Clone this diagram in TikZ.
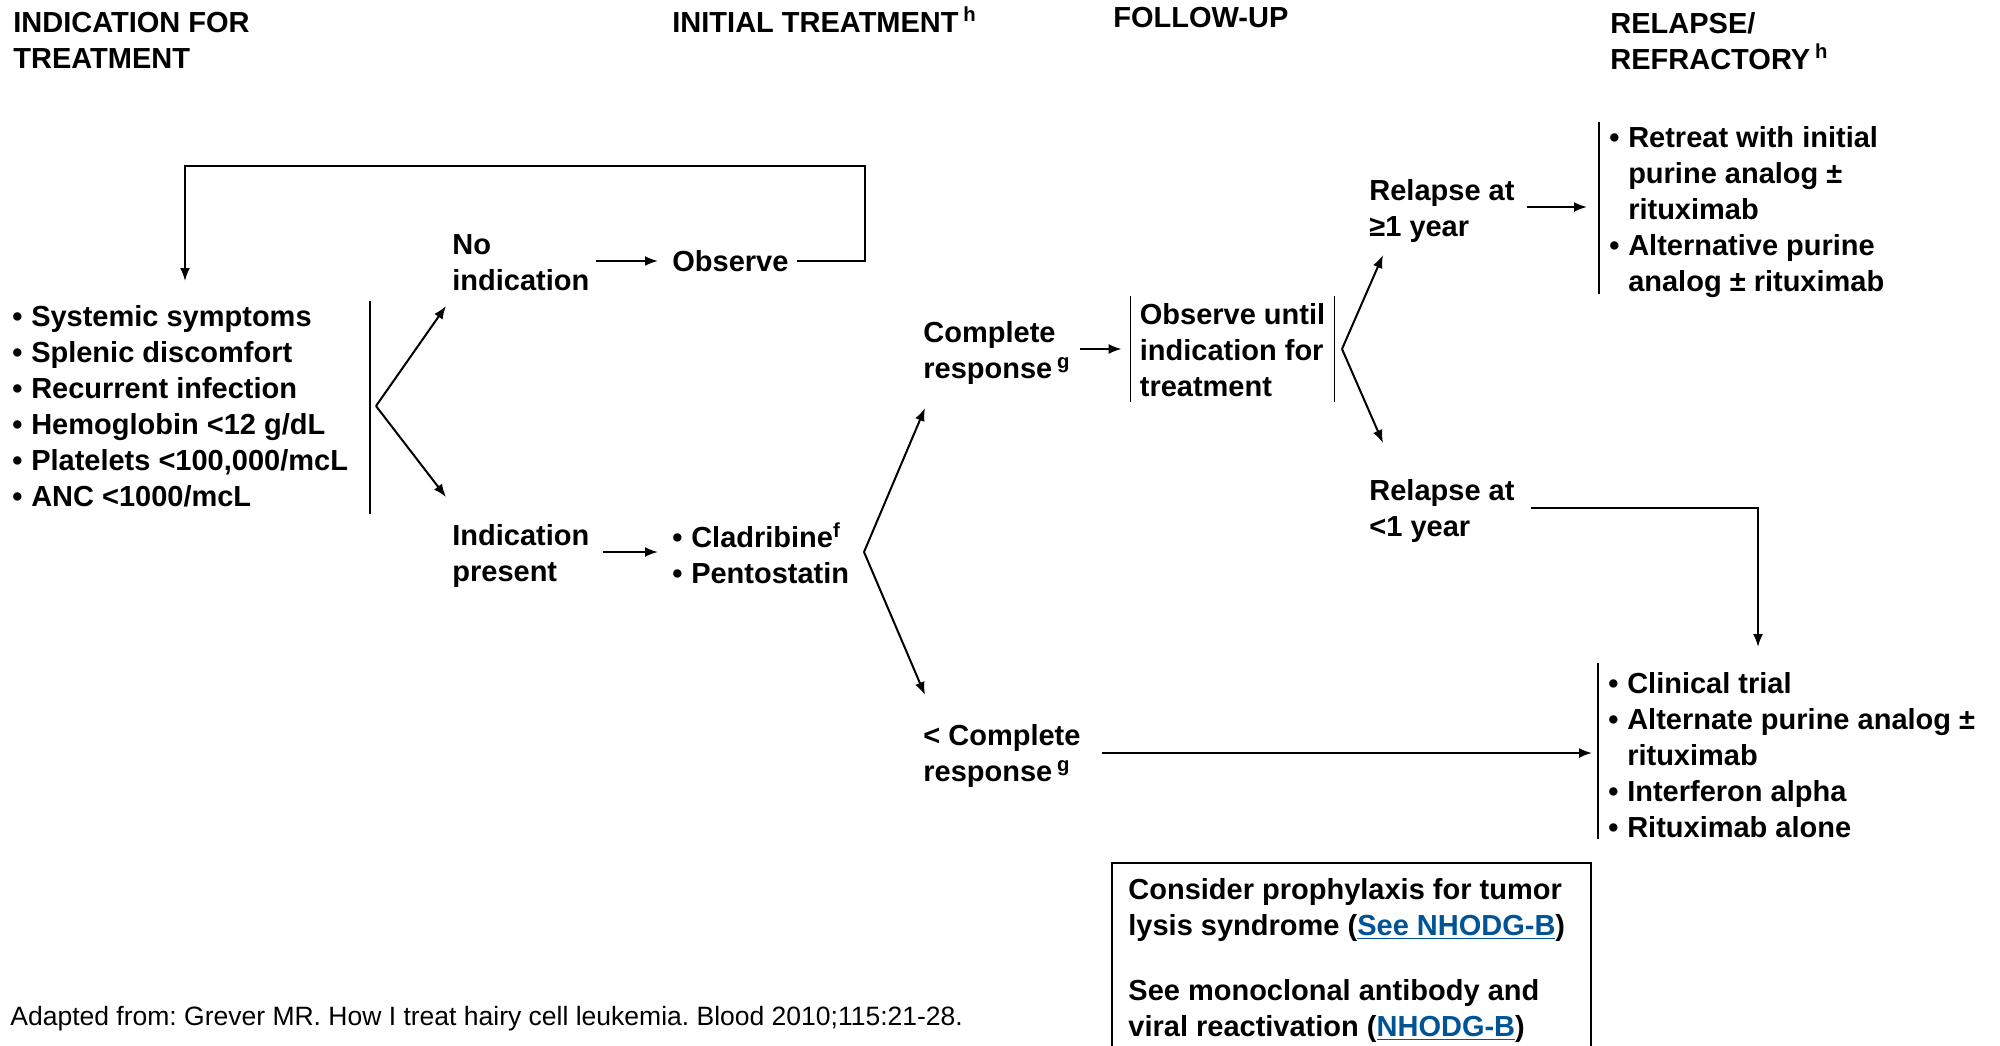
\documentclass[tikz,border=0pt]{standalone}
\usepackage{fontspec}
\setmainfont{Liberation Sans}
\usetikzlibrary{arrows.meta,calc}
\definecolor{linkblue}{RGB}{0,84,150}
\newcommand{\lnk}[1]{\textcolor{linkblue}{\underline{#1}}}
\newcommand{\bul}{\textbullet\hspace{0.3em}}
\newcommand{\hang}{\hphantom{\textbullet\hspace{0.3em}}}
\frenchspacing
\begin{document}
\begin{tikzpicture}[x=0.5pt,y=-0.5pt,
  txt/.style={font=\fontsize{14.5}{18}\selectfont\bfseries, inner sep=0pt, align=left},
  arr/.style={line width=1pt,-{Latex[length=6.5pt,width=5pt]}},
  ln/.style={line width=1pt},
  brk/.style={line width=0.8pt},
  box/.style={line width=1.2pt}]
\useasboundingbox (0,0) rectangle (2000,1045);

% headers
\node[txt,anchor=north west] (h1) at (13,12) {INDICATION FOR\\TREATMENT};
\node[txt,anchor=base west] (h2) at (672,32) {INITIAL TREATMENT\,\textsuperscript{h}};
\node[txt,anchor=base west] (h3) at (1113,27) {FOLLOW-UP};
\node[txt,anchor=north west] (h4) at (1610,12) {RELAPSE/\\REFRACTORY\,\textsuperscript{h}};

% indication list
\node[txt,anchor=west] (ind) at (12,406) {\bul Systemic symptoms\\\bul Splenic discomfort\\\bul Recurrent infection\\\bul Hemoglobin <12 g/dL\\\bul Platelets <100,000/mcL\\\bul ANC <1000/mcL};
\coordinate (barT) at (370,301);
\coordinate (barB) at (370,514);
\draw[brk] (barT) -- (barB);

\coordinate (f1) at (376,406);
\coordinate (t1a) at (446,306);
\coordinate (t1b) at (446,497);
\node[txt,anchor=west] (noind) at (452,263) {No\\indication};
\node[txt,anchor=west] (indp) at (452,556) {Indication\\present};
\draw[arr] (f1) -- (t1a);
\draw[arr] (f1) -- (t1b);

\node[txt,anchor=west] (obs) at (672,261) {Observe};
\draw[arr,shorten <=3pt,shorten >=7pt] (noind.east |- obs.west) -- (obs.west);
\coordinate (lpR) at (865,166);
\coordinate (lpL) at (185,281);
\draw[arr] ([xshift=4pt]obs.east) -| (lpR) -| (lpL);

\node[txt,anchor=west] (drug) at (672,553) {\bul Cladribine\textsuperscript{f}\\\bul Pentostatin};
\coordinate (a2) at (603,552);
\draw[arr,shorten >=7pt] (a2) -- (a2 -| drug.west);

\coordinate (f2) at (864,552);
\coordinate (t2a) at (925,408);
\coordinate (t2b) at (925,695);
\draw[arr] (f2) -- (t2a);
\draw[arr] (f2) -- (t2b);

\node[txt,anchor=west] (cr) at (923,353) {Complete\\response\,\textsuperscript{g}};
\node[txt,minimum width=101.5pt,minimum height=52.5pt] (ou) at (1232.5,350) {Observe until\\indication for\\treatment};
\draw[brk] ([yshift=0.5pt]ou.north west) -- ([yshift=0.5pt]ou.south west);
\draw[brk] ([yshift=0.5pt]ou.north east) -- ([yshift=0.5pt]ou.south east);
\coordinate (a3) at (1080,349);
\draw[arr,shorten >=4.5pt] (a3) -- (a3 -| ou.west);

\coordinate (f3) at (1342,349);
\coordinate (t3a) at (1383,255);
\coordinate (t3b) at (1383,443);
\draw[arr] (f3) -- (t3a);
\draw[arr] (f3) -- (t3b);

\node[txt,anchor=west] (r1) at (1369,211) {Relapse at\\≥1 year};
\node[txt,anchor=west,minimum height=84pt,inner xsep=5pt] (rb1) at (1599,212) {\bul Retreat with initial\\\hang purine analog ±\\\hang rituximab\\\bul Alternative purine\\\hang analog ± rituximab};
\draw[brk] ([yshift=2pt]rb1.north west) -- ([yshift=2pt]rb1.south west);
\coordinate (a4) at (1527,207);
\draw[arr,shorten >=6pt] (a4) -- (a4 -| rb1.west);

\node[txt,anchor=west] (r2) at (1369,511) {Relapse at\\<1 year};
\node[txt,anchor=west,minimum height=88pt,inner xsep=5pt] (rb2) at (1598,755) {\bul Clinical trial\\\bul Alternate purine analog ±\\\hang rituximab\\\bul Interferon alpha\\\bul Rituximab alone};
\draw[brk] ([yshift=2pt]rb2.north west) -- ([yshift=2pt]rb2.south west);
\coordinate (c1) at (1531,508);
\coordinate (c2) at (1758,508);
\coordinate (c3) at (1758,647);
\draw[arr] (c1) -- (c2) -- (c3);

\node[txt,anchor=west] (lc) at (923,756) {< Complete\\response\,\textsuperscript{g}};
\coordinate (a5) at (1102,753);
\draw[arr,shorten >=3pt] (a5) -- (a5 -| rb2.west);

% note box
\node[txt,anchor=north west] (nb) at (1128,878) {Consider prophylaxis for tumor\\lysis syndrome (\lnk{See NHODG-B})\\[14.5pt]See monoclonal antibody and\\viral reactivation (\lnk{NHODG-B})};
\draw[box] (1112,1060) -- (1112,863) -- (1591,863) -- (1591,1060);

% footnote
\node[font=\fontsize{13.25}{15}\selectfont,inner sep=0pt,anchor=base west] (fn) at (10,1025) {Adapted from: Grever MR. How I treat hairy cell leukemia. Blood 2010;115:21-28.};
\end{tikzpicture}
\end{document}
